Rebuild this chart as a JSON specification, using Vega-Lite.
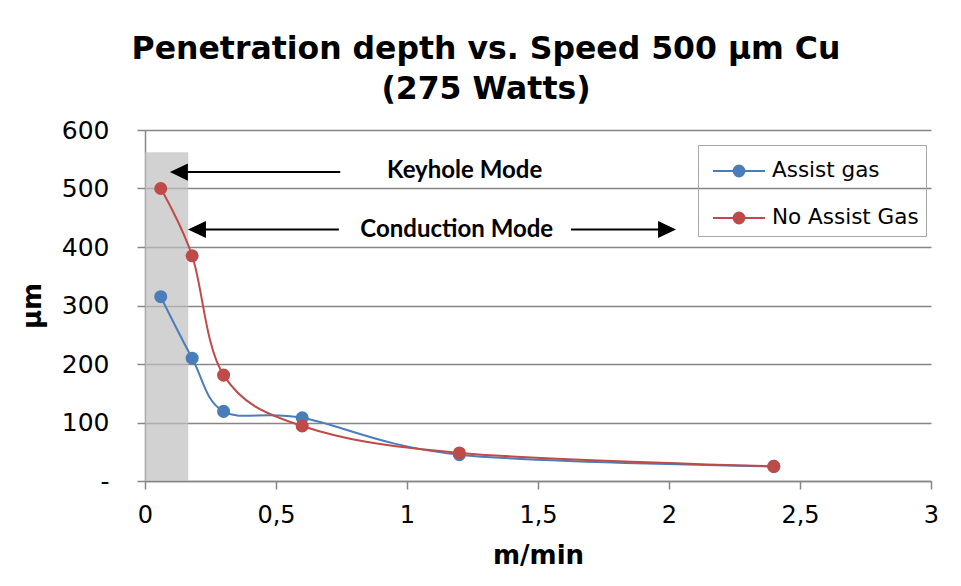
{
  "$schema": "https://vega.github.io/schema/vega-lite/v6.json",
  "width": 786,
  "height": 351,
  "autosize": "none",
  "padding": {"left": 145, "top": 130, "right": 30, "bottom": 105},
  "background": "white",
  "config": {
    "view": {"stroke": null},
    "font": "DejaVu Sans"
  },
  "title": {
    "text": ["Penetration depth vs. Speed 500 μm Cu", "(275 Watts)"],
    "font": "DejaVu Sans",
    "fontSize": 31.5,
    "fontWeight": "bold",
    "lineHeight": 40,
    "anchor": "middle",
    "dx": -52,
    "offset": 13,
    "color": "black"
  },
  "datasets": {
    "zone": [{"x": 0, "x2": 0.165, "y": 0, "y2": 562}],
    "series": [
      {"speed": 0.06, "depth": 315, "series": "Assist gas"},
      {"speed": 0.18, "depth": 210, "series": "Assist gas"},
      {"speed": 0.3, "depth": 119, "series": "Assist gas"},
      {"speed": 0.6, "depth": 108, "series": "Assist gas"},
      {"speed": 1.2, "depth": 45, "series": "Assist gas"},
      {"speed": 2.4, "depth": 25, "series": "Assist gas"},
      {"speed": 0.06, "depth": 500, "series": "No Assist Gas"},
      {"speed": 0.18, "depth": 385, "series": "No Assist Gas"},
      {"speed": 0.3, "depth": 181, "series": "No Assist Gas"},
      {"speed": 0.6, "depth": 94, "series": "No Assist Gas"},
      {"speed": 1.2, "depth": 48, "series": "No Assist Gas"},
      {"speed": 2.4, "depth": 25, "series": "No Assist Gas"}
    ],
    "shafts": [
      {"x": 0.16, "x2": 0.745, "y": 528},
      {"x": 0.23, "x2": 0.74, "y": 430},
      {"x": 1.626, "x2": 1.96, "y": 430}
    ],
    "heads": [
      {"x": 0.095, "y": 528, "dir": "left"},
      {"x": 0.164, "y": 430, "dir": "left"},
      {"x": 2.027, "y": 430, "dir": "right"}
    ],
    "labels": [
      {"x": 1.22, "y": 530, "label": "Keyhole Mode"},
      {"x": 1.19, "y": 429, "label": "Conduction Mode"}
    ]
  },
  "layer": [
    {
      "data": {"name": "zone"},
      "mark": {"type": "rect", "color": "#bfbfbf", "opacity": 0.7},
      "encoding": {
        "x": {"field": "x", "type": "quantitative", "scale": {"domain": [0, 3], "nice": false},
          "axis": {
            "values": [0, 0.5, 1, 1.5, 2, 2.5, 3],
            "labelExpr": "replace(format(datum.value, '~g'), '.', ',')",
            "labelFlush": false,
            "grid": false,
            "domainColor": "#868686",
            "domainWidth": 1.5,
            "tickColor": "#868686",
            "tickWidth": 1.5,
            "tickSize": 8,
            "labelFontSize": 24,
            "labelColor": "black",
            "labelPadding": 14,
            "title": "m/min",
            "titleFontSize": 26,
            "titleFontWeight": "bold",
            "titleColor": "black",
            "titlePadding": 15
          }},
        "x2": {"field": "x2"},
        "y": {"field": "y", "type": "quantitative", "scale": {"domain": [0, 600], "nice": false},
          "axis": {
            "values": [0, 100, 200, 300, 400, 500, 600],
            "labelExpr": "datum.value == 0 ? '-' : datum.label",
            "labelFlush": false,
            "grid": true,
            "gridColor": "#868686",
            "gridWidth": 1.5,
            "domainColor": "#868686",
            "domainWidth": 1.5,
            "tickColor": "#868686",
            "tickWidth": 1.5,
            "tickSize": 8,
            "labelFontSize": 25,
            "labelColor": "black",
            "labelPadding": 28,
            "title": "μm",
            "titleFontSize": 26,
            "titleFontWeight": "bold",
            "titleColor": "black",
            "titlePadding": 16
          }},
        "y2": {"field": "y2"}
      }
    },
    {
      "data": {"name": "series"},
      "mark": {"type": "line", "interpolate": "cardinal", "strokeWidth": 2},
      "encoding": {
        "x": {"field": "speed", "type": "quantitative"},
        "y": {"field": "depth", "type": "quantitative"},
        "color": {"field": "series", "type": "nominal",
          "scale": {"domain": ["Assist gas", "No Assist Gas"], "range": ["#4A7EBB", "#BE4B48"]},
          "legend": {
            "title": null,
            "orient": "none",
            "legendX": 553,
            "legendY": 15,
            "strokeColor": "#a6a6a6",
            "padding": 7,
            "symbolType": "M-0.611,0L2.278,0M0.533,0A0.3,0.3 0 1,1 1.133,0A0.3,0.3 0 1,1 0.533,0Z",
            "symbolSize": 1296,
            "symbolStrokeWidth": 2,
            "labelFontSize": 21.5,
            "labelColor": "black",
            "labelFont": "DejaVu Sans",
            "labelOffset": 29,
            "rowPadding": 17
          }}
      }
    },
    {
      "data": {"name": "series"},
      "mark": {"type": "point", "filled": true, "opacity": 1, "size": 170},
      "encoding": {
        "x": {"field": "speed", "type": "quantitative"},
        "y": {"field": "depth", "type": "quantitative"},
        "color": {"field": "series", "type": "nominal"}
      }
    },
    {
      "data": {"name": "shafts"},
      "mark": {"type": "rule", "color": "black", "strokeWidth": 2},
      "encoding": {
        "x": {"field": "x", "type": "quantitative"},
        "x2": {"field": "x2"},
        "y": {"field": "y", "type": "quantitative"}
      }
    },
    {
      "data": {"name": "heads"},
      "mark": {"type": "point", "filled": true, "color": "black", "opacity": 1, "size": 324},
      "encoding": {
        "x": {"field": "x", "type": "quantitative"},
        "y": {"field": "y", "type": "quantitative"},
        "shape": {"field": "dir", "type": "nominal",
          "scale": {"domain": ["left", "right"], "range": ["M0,0L2,-0.95L2,0.95Z", "M0,0L-2,-0.95L-2,0.95Z"]},
          "legend": null}
      }
    },
    {
      "data": {"name": "labels"},
      "mark": {"type": "text", "font": "Lato", "fontWeight": "bold", "fontSize": 24, "color": "black", "baseline": "middle", "align": "center"},
      "encoding": {
        "x": {"field": "x", "type": "quantitative"},
        "y": {"field": "y", "type": "quantitative"},
        "text": {"field": "label"}
      }
    }
  ]
}
